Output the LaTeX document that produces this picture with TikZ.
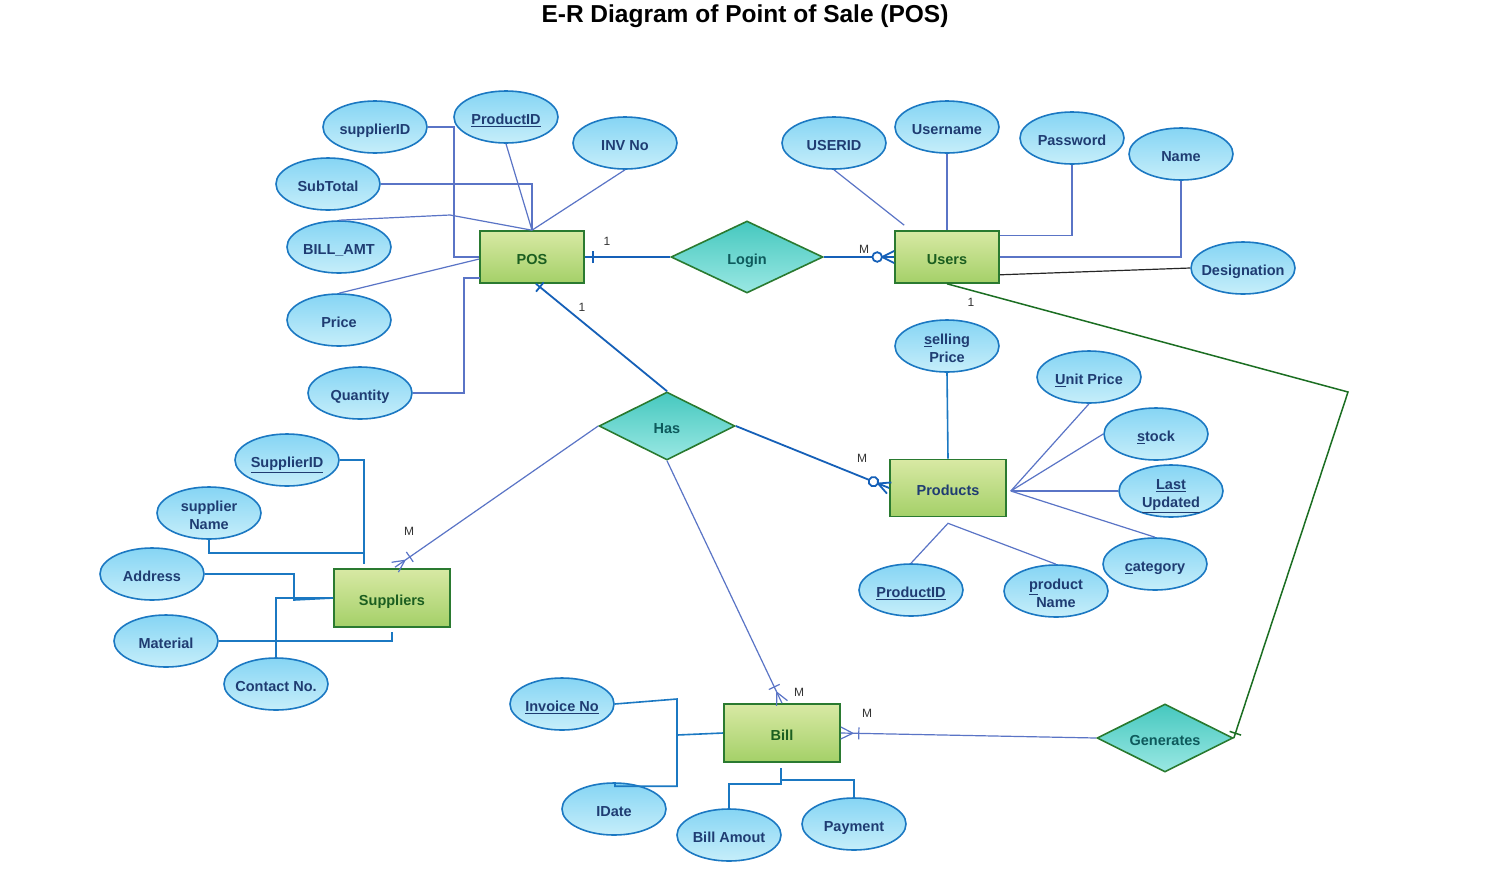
\documentclass[tikz,border=0pt]{standalone}
\usepackage{fontspec}
\setmainfont{Liberation Sans}
\usetikzlibrary{shapes.geometric,decorations.markings,calc}
\definecolor{attrtop}{HTML}{86D5F4}
\definecolor{attrbot}{HTML}{C6EEFA}
\definecolor{attrline}{HTML}{1B78C2}
\definecolor{attrtext}{HTML}{1F3C72}
\definecolor{enttop}{HTML}{D8E9A4}
\definecolor{entbot}{HTML}{A4D068}
\definecolor{entline}{HTML}{2A7A30}
\definecolor{enttext}{HTML}{1B5E20}
\definecolor{reltop}{HTML}{46C8BF}
\definecolor{relbot}{HTML}{9AE8E3}
\definecolor{reltext}{HTML}{0E5A5C}
\definecolor{thinline}{HTML}{5A74C6}
\definecolor{thickline}{HTML}{1560B8}
\definecolor{greenline}{HTML}{1B6E22}
\definecolor{lbl}{HTML}{333333}
\newcommand\twol[2]{\begin{tabular}[b]{@{}c@{}}#1\\#2\end{tabular}}
\newcommand\nw[1]{\makebox[0pt][c]{#1}}
\tikzset{
  attr/.style={ellipse, draw=attrline, line width=1.6pt, top color=attrtop, bottom color=attrbot,
    minimum width=104pt, minimum height=52pt, inner sep=0pt, text=attrtext,
    text height=15.5pt, text depth=0pt,
    font=\fontsize{14.5}{18}\selectfont\bfseries},
  twoline/.style={text height=33pt, text depth=0pt},
  ent/.style={rectangle, draw=entline, line width=1.6pt, top color=enttop, bottom color=entbot,
    minimum width=104pt, minimum height=52pt, inner sep=0pt, text=enttext,
    text height=15.5pt, text depth=0pt,
    font=\fontsize{14.5}{17}\selectfont\bfseries},
  rel/.style={diamond, aspect=2, draw=entline, line width=1.6pt, top color=reltop, bottom color=relbot,
    minimum width=152pt, minimum height=72pt, inner sep=0pt, text=reltext,
    text height=15pt, text depth=0pt,
    font=\fontsize{14.5}{17}\selectfont\bfseries},
  thin/.style={draw=thinline, line width=1.2pt},
  thick/.style={draw=thickline, line width=1.8pt},
  attrwire/.style={draw=attrline, line width=1.6pt},
  card/.style={text=lbl, font=\fontsize{12}{13}\selectfont, inner sep=0pt},
  zeromany/.style={postaction={decorate,decoration={markings,mark=at position 1 with {
     \draw[line width=1.8pt] (-12pt,0)--(0,6pt) (-12pt,0)--(0,-6pt);
     \draw[line width=1.8pt, fill=white] (-17pt,0) circle (4.8pt);}}}},
  onemany/.style={postaction={decorate,decoration={markings,mark=at position 1 with {
     \draw (-12pt,0)--(0,6pt) (-12pt,0)--(0,-6pt);
     \draw (-18pt,-6pt)--(-18pt,6pt);}}}},
  onestart/.style={postaction={decorate,decoration={markings,mark=at position 0 with {
     \draw (#1,-6pt)--(#1,6pt);}}}},
  oneend/.style={postaction={decorate,decoration={markings,mark=at position 1 with {
     \draw (-#1,-6pt)--(-#1,6pt);}}}},
}
\begin{document}
\begin{tikzpicture}[x=1pt,y=-1pt]
\path[use as bounding box, fill=white] (0,0) rectangle (1493,895);

\node[font=\fontsize{24.5}{28}\selectfont\bfseries, text height=18pt, text depth=0pt, inner sep=0pt] (title) at (745,13) {E-R Diagram of Point of Sale (POS)};

% entities
\node[ent] (pos) at (532,257) {POS};
\node[ent] (users) at (947,257) {Users};
\node[ent, minimum width=116pt, minimum height=57pt, text=attrtext] (prod) at (948,488) {Products};
\node[ent, minimum width=116pt, minimum height=58pt] (sup) at (392,598) {Suppliers};
\node[ent, minimum width=116pt, minimum height=58pt] (bill) at (782,733) {Bill};

% relationships
\node[rel] (login) at (747,257) {Login};
\node[rel, minimum width=136pt, minimum height=68pt] (has) at (667,426) {Has};
\node[rel, minimum width=136pt, minimum height=68pt] (gen) at (1165,738) {Generates};

% POS attributes
\node[attr] (sid) at (375,127) {supplierID};
\node[attr] (pid) at (506,117) {\underline{ProductID}};
\node[attr] (inv) at (625,143) {INV No};
\node[attr] (sub) at (328,184) {SubTotal};
\node[attr] (bamt) at (339,247) {BILL\_AMT};
\node[attr] (price) at (339,320) {Price};
\node[attr] (qty) at (360,393) {Quantity};

% Users attributes
\node[attr] (uid) at (834,143) {USERID};
\node[attr] (uname) at (947,127) {Username};
\node[attr] (pw) at (1072,138) {Password};
\node[attr] (name) at (1181,154) {Name};
\node[attr] (desig) at (1243,268) {\nw{Designation}};

% Products attributes
\node[attr, twoline] (sell) at (947,346) {\twol{\underline{s}elling}{Price}};
\node[attr] (unit) at (1089,377) {\underline{U}nit Price};
\node[attr] (stock) at (1156,434) {\underline{s}tock};
\node[attr, twoline] (last) at (1171,491) {\twol{\underline{Last}}{\underline{Updated}}};
\node[attr] (cat) at (1155,564) {\underline{c}ategory};
\node[attr] (pid2) at (911,590) {\underline{ProductID}};
\node[attr, twoline] (pname) at (1056,591) {\twol{\underline{p}roduct}{Name}};

% Suppliers attributes
\node[attr] (supid) at (287,460) {\underline{SupplierID}};
\node[attr, twoline] (sname) at (209,513) {\twol{supplier}{Name}};
\node[attr] (addr) at (152,574) {Address};
\node[attr] (mat) at (166,641) {Material};
\node[attr] (contact) at (276,684) {\nw{Contact No.}};

% Bill attributes
\node[attr] (invno) at (562,704) {\underline{Invoice No}};
\node[attr] (idate) at (614,809) {IDate};
\node[attr] (bamout) at (729,835) {Bill Amout};
\node[attr] (pay) at (854,824) {Payment};

% POS attribute connectors
\draw[thin] (sid.east) -| (454,257) -- (pos.west);
\draw[thin] (pid.south) -- (pos.north);
\draw[thin] (inv.south) -- (pos.north);
\draw[thin] (sub.east) -| (pos.north);
\draw[thin] (bamt.north) -- (450,215) -- (pos.north);
\draw[thin] (price.north) -- ($(pos.west)+(0,2)$);
\draw[thin] (qty.east) -| (464,278) -- (480,278);

% Users attribute connectors
\draw[thin] (uid.south) -- ($(users.north west)+(10,-5)$);
\draw[thin] (uname.south) -- (users.north);
\draw[thin] (pw.south) |- ($(users.north east)+(0,5)$);
\draw[thin] (name.south) |- (users.east);
\draw[draw=black!85, line width=1.2pt] (desig.west) -- ($(users.south east)+(0,-9)$);

% Products attribute connectors
\draw[attrwire] (sell.south) -- (prod.north);
\draw[thin] (unit.south) -- ($(prod.east)+(4,3)$);
\draw[thin] (stock.west) -- ($(prod.east)+(4,3)$);
\draw[thin] (last.west) -- ($(prod.east)+(4,3)$);
\draw[thin] (cat.north) -- ($(prod.east)+(4,3)$);
\draw[thin] (pid2.north) -- ($(prod.south)+(0,6)$) -- (pname.north);

% Suppliers attribute connectors
\draw[attrwire] (supid.east) -| ($(sup.north west)+(31,-4)$);
\draw[attrwire] (sname.south) |- (365,553);
\draw[attrwire] (addr.east) -| (294,600) -- (sup.west);
\draw[attrwire] (contact.north) |- (sup.west);
\draw[attrwire] (mat.east) -| ($(sup.south)+(0,4)$);

% Bill attribute connectors
\draw[attrwire] (invno.east) -- (677,699) |- ($(idate.north)+(1,4)$) -- ($(idate.north)+(1,0)$);
\draw[attrwire] (677,735) -- (bill.west);
\draw[attrwire] (bamout.north) |- (781,784) -- ($(bill.south)+(-1,5)$);
\draw[attrwire] (pay.north) |- (781,780);

% relationship connectors
\draw[thick, onestart=8pt] (pos.east) -- (login.west);
\draw[thick, zeromany] (login.east) -- (users.west);
\draw[thick, onestart=5pt] ($(pos.south)+(4,0)$) -- (has.north);
\draw[thick, zeromany] (has.east) -- (prod.west);
\draw[thin, onemany] (has.west) -- ($(sup.north)+(3,-1)$);
\draw[thin, onemany] (has.south) -- (bill.north);
\draw[thin, onemany] (gen.west) -- (bill.east);
\draw[draw=greenline, line width=1.5pt, oneend=5pt] (users.south) -- (1348,392) -- (gen.east);

% cardinality labels
\node[card] (c1) at (607,241) {1};
\node[card] (c2) at (864,249) {M};
\node[card] (c3) at (582,307) {1};
\node[card] (c4) at (862,458) {M};
\node[card] (c5) at (409,531) {M};
\node[card] (c6) at (799,692) {M};
\node[card] (c7) at (867,713) {M};
\node[card] (c8) at (971,302) {1};
\end{tikzpicture}
\end{document}
